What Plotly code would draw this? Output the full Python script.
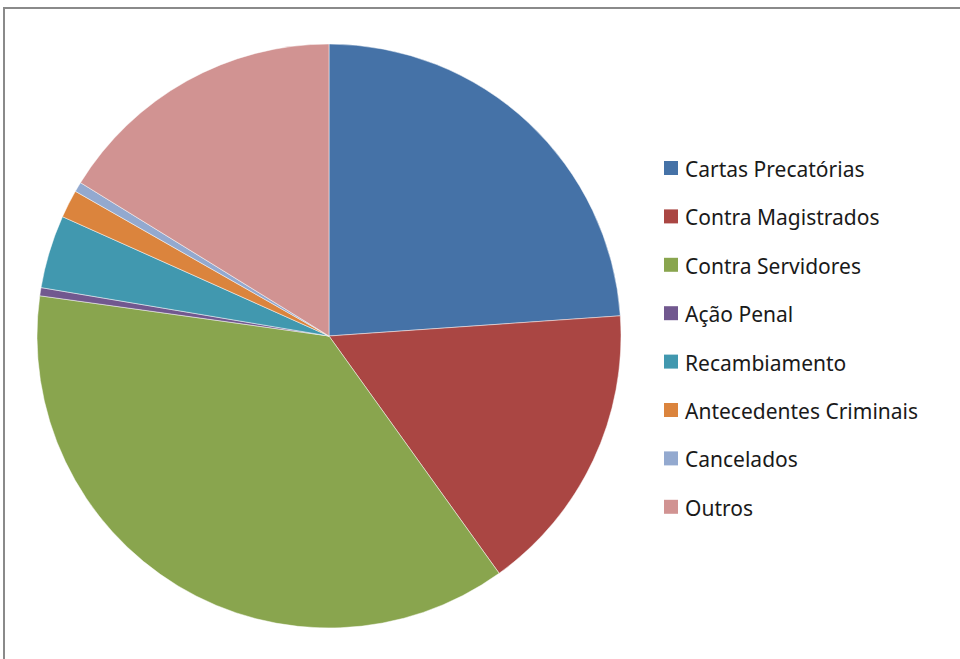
import plotly.graph_objects as go

# Share of proceedings by category (%)
categories = [
    "Cartas Precatórias",
    "Contra Magistrados",
    "Contra Servidores",
    "Ação Penal",
    "Recambiamento",
    "Antecedentes Criminais",
    "Cancelados",
    "Outros",
]
shares = [23.9, 16.2, 37.1, 0.45, 4.05, 1.55, 0.55, 16.2]
colors = ["#4572A7", "#AA4643", "#89A54E", "#71588F",
          "#4198AF", "#DB843D", "#93A9CF", "#D19392"]

W, H = 960, 659

fig = go.Figure(
    go.Pie(
        labels=categories,
        values=shares,
        sort=False,
        direction="clockwise",
        rotation=0,
        textinfo="none",
        hoverinfo="label+percent",
        marker=dict(colors=colors, line=dict(color="rgba(255,255,255,0.6)", width=0.8)),
        domain=dict(x=[37 / W, 621 / W], y=[31 / H, 615 / H]),
        showlegend=False,
    )
)

# Legend drawn by hand: colour swatch plus label for each category
shapes = []
annotations = []
top_y = 168
step = 48.4
for i, (name, col) in enumerate(zip(categories, colors)):
    yc = top_y + i * step
    shapes.append(dict(
        type="rect", xref="paper", yref="paper",
        x0=664 / W, x1=678 / W,
        y0=1 - (yc + 7) / H, y1=1 - (yc - 7) / H,
        fillcolor=col, line=dict(width=0),
    ))
    annotations.append(dict(
        text=name, xref="paper", yref="paper",
        x=683 / W, y=1 - (yc + 1) / H,
        xanchor="left", yanchor="middle", showarrow=False,
        font=dict(family="Noto Sans", size=21, color="#1a1a1a"),
    ))

# Chart area frame
shapes.append(dict(
    type="rect", xref="paper", yref="paper",
    x0=4 / W, x1=1.05, y0=-0.05, y1=1 - 8 / H,
    line=dict(color="#8a8a8a", width=2), fillcolor="rgba(0,0,0,0)",
    layer="below",
))

fig.update_layout(
    width=W, height=H,
    margin=dict(l=0, r=0, t=0, b=0),
    paper_bgcolor="white",
    plot_bgcolor="white",
    shapes=shapes,
    annotations=annotations,
)

fig.write_html("out.html")
